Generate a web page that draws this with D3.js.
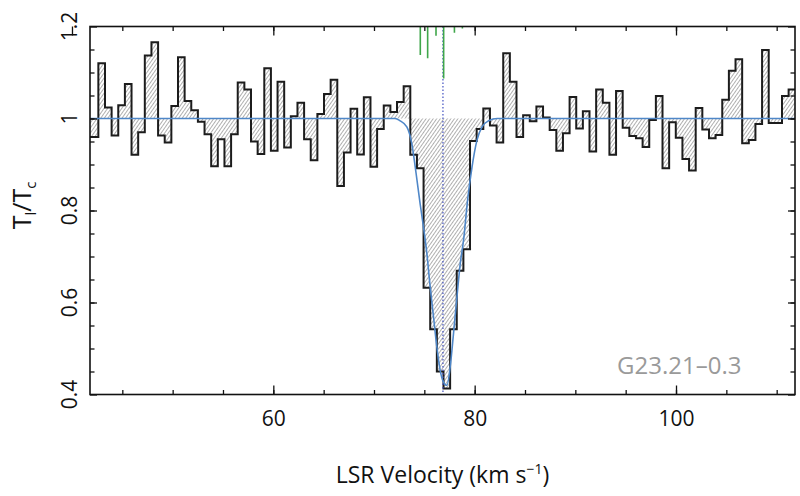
<!DOCTYPE html>
<html>
<head>
<meta charset="utf-8">
<script src="https://cdn.jsdelivr.net/npm/d3@7"></script>
<style>
  body { margin: 0; background: #fff; }
  svg text { font-family: "Open Sans", "Noto Sans", sans-serif; }
</style>
</head>
<body>
<div id="graph"></div>
<script>
// channel grid of the spectrum (km/s)
var chanStart = 41.96;
var chanWidth = 0.6593;

// line-to-continuum ratio per channel
var ratio = [
  0.960, 1.120, 1.024, 0.963, 1.029, 1.075, 0.921, 0.970, 1.137, 1.166,
  0.963, 0.948, 1.027, 1.133, 1.038, 1.018, 0.993, 0.966, 0.896, 0.955,
  0.896, 0.966, 1.078, 1.063, 0.950, 0.923, 1.109, 0.930, 1.080, 0.937,
  1.005, 1.034, 0.955, 0.909, 1.010, 1.053, 1.084, 0.853, 0.926, 1.021,
  0.922, 1.046, 0.895, 0.977, 1.028, 1.014, 1.036, 1.070, 0.921, 0.892,
  0.632, 0.542, 0.450, 0.413, 0.542, 0.669, 0.716, 0.951, 0.977, 1.022,
  0.985, 0.948, 1.142, 1.080, 0.960, 1.007, 0.994, 1.026, 1.002, 0.975,
  0.930, 0.968, 1.047, 0.978, 1.016, 0.928, 1.063, 1.034, 0.921, 1.060,
  0.980, 0.962, 0.957, 0.938, 0.997, 1.049, 0.892, 0.992, 0.958, 0.912,
  0.887, 1.023, 0.976, 0.957, 0.964, 1.041, 1.104, 1.129, 0.946, 0.953,
  0.988, 1.149, 0.990, 0.990, 1.049, 1.063
];

// fitted profile
var fitVel = [41.8, 72.09, 72.59, 73.26, 73.75, 74.18, 74.58, 74.91, 75.25, 75.58,
  75.91, 76.24, 76.57, 76.90, 77.24, 77.57, 77.90, 78.24, 78.57, 78.90,
  79.30, 79.74, 80.23, 80.73, 81.38, 82.25, 111.8];
var fitRatio = [1.0, 1.0, 0.995, 0.982, 0.946, 0.881, 0.815, 0.765, 0.707, 0.634,
  0.569, 0.504, 0.453, 0.427, 0.420, 0.460, 0.533, 0.612, 0.685, 0.736,
  0.823, 0.895, 0.953, 0.982, 0.995, 1.0, 1.0];

// marker lines at the top
var lineVel = [74.60, 75.33, 76.16, 76.92, 77.99, 78.78];
var lineStrength = [0.55, 0.61, 0.18, 1.0, 0.12, 0.04];
var systemicVel = 76.85;

var xMajor = [40, 60, 80, 100];
var xLabels = ["40", "60", "80", "100"];
var yMajor = [0.4, 0.6, 0.8, 1.0, 1.2];
var yLabels = ["0.4", "0.6", "0.8", "1", "1.2"];
var sourceName = "G23.21–0.3";

var margin = {top: 26.5, right: 5, bottom: 101.5, left: 90},
    width = 800 - margin.left - margin.right,
    height = 496 - margin.top - margin.bottom;

var svg = d3.select("#graph").append("svg")
    .attr("width", 800)
    .attr("height", 496);

var defs = svg.append("defs");
defs.append("clipPath").attr("id", "clip")
    .append("rect").attr("width", width).attr("height", height);
defs.append("pattern")
    .attr("id", "hatch")
    .attr("patternUnits", "userSpaceOnUse")
    .attr("width", 2.9)
    .attr("height", 2.9)
    .attr("patternTransform", "rotate(35)")
  .append("line")
    .attr("x1", 0).attr("y1", 0).attr("x2", 0).attr("y2", 2.9)
    .attr("stroke", "#3c3c3c")
    .attr("stroke-width", 0.8);

var g = svg.append("g")
    .attr("transform", "translate(" + margin.left + "," + margin.top + ")");

var x = d3.scaleLinear().domain([41.79, 111.82]).range([0, width]);
var y = d3.scaleLinear().domain([0.4, 1.2]).range([height, 0]);
var len = d3.scaleLinear().domain([0, 1]).range([0, 52]);

// step points: left edge of each channel, plus the closing edge
var steps = ratio.map(function(r, i) { return [chanStart + i * chanWidth, r]; });
steps.push([chanStart + ratio.length * chanWidth, ratio[ratio.length - 1]]);
steps[0][0] = x.domain()[0];

var plot = g.append("g").attr("clip-path", "url(#clip)");

plot.append("path")
    .datum(steps)
    .attr("fill", "url(#hatch)")
    .attr("d", d3.area()
        .x(function(d) { return x(d[0]); })
        .y0(y(1))
        .y1(function(d) { return y(d[1]); })
        .curve(d3.curveStepAfter));

plot.append("path")
    .datum(steps)
    .attr("fill", "none")
    .attr("stroke", "#1c1c1c")
    .attr("stroke-width", 2)
    .attr("d", d3.line()
        .x(function(d) { return x(d[0]); })
        .y(function(d) { return y(d[1]); })
        .curve(d3.curveStepAfter));

plot.append("line")
    .attr("x1", x(systemicVel)).attr("x2", x(systemicVel))
    .attr("y1", 0).attr("y2", height)
    .attr("stroke", "#3f4fc0")
    .attr("stroke-width", 1.2)
    .attr("stroke-dasharray", "1.5,2");

var fit = fitVel.map(function(v, i) { return [v, fitRatio[i]]; });
plot.append("path")
    .datum(fit)
    .attr("fill", "none")
    .attr("stroke", "#4f87c8")
    .attr("stroke-width", 1.6)
    .attr("d", d3.line()
        .x(function(d) { return x(d[0]); })
        .y(function(d) { return y(d[1]); })
        .curve(d3.curveMonotoneX));

plot.selectAll(".comp")
    .data(lineVel)
    .enter().append("line")
    .attr("x1", function(d) { return x(d); })
    .attr("x2", function(d) { return x(d); })
    .attr("y1", 0)
    .attr("y2", function(d, i) { return len(lineStrength[i]); })
    .attr("stroke", "#3fa64a")
    .attr("stroke-width", 1.6);

// axes, ticks pointing inward
function noLabel() { return ""; }
var xMinor = d3.range(45, 112, 5);
var yMinor = d3.range(0.45, 1.2, 0.05);

g.append("g").attr("transform", "translate(0," + height + ")")
    .call(d3.axisBottom(x).tickValues(xMinor).tickSize(-4.5).tickFormat(noLabel));
var xb = g.append("g").attr("transform", "translate(0," + height + ")")
    .call(d3.axisBottom(x).tickValues(xMajor.filter(function(v) { return v > x.domain()[0]; }))
        .tickSize(-9).tickPadding(17)
        .tickFormat(function(d) { return xLabels[xMajor.indexOf(d)]; }));
g.append("g")
    .call(d3.axisTop(x).tickValues(xMinor).tickSize(-4.5).tickFormat(noLabel));
g.append("g")
    .call(d3.axisTop(x).tickValues(xMajor).tickSize(-9).tickFormat(noLabel));
g.append("g")
    .call(d3.axisLeft(y).tickValues(yMinor).tickSize(-4.5).tickFormat(noLabel));
g.append("g")
    .call(d3.axisLeft(y).tickValues(yMajor).tickSize(-7).tickFormat(noLabel));
g.append("g").attr("transform", "translate(" + width + ",0)")
    .call(d3.axisRight(y).tickValues(yMinor).tickSize(-4.5).tickFormat(noLabel));
g.append("g").attr("transform", "translate(" + width + ",0)")
    .call(d3.axisRight(y).tickValues(yMajor).tickSize(-7).tickFormat(noLabel));

g.selectAll(".domain").remove();
g.selectAll(".tick line").attr("stroke", "#111").attr("stroke-width", 1.3);
xb.selectAll("text").attr("font-size", 21).attr("fill", "#111");

g.selectAll(".ylab")
    .data(yMajor)
    .enter().append("text")
    .attr("transform", function(d) { return "translate(-13," + y(d) + ") rotate(-90)"; })
    .attr("text-anchor", "middle")
    .attr("font-size", 21)
    .attr("fill", "#111")
    .text(function(d, i) { return yLabels[i]; });

g.append("rect")
    .attr("width", width).attr("height", height)
    .attr("fill", "none")
    .attr("stroke", "#111")
    .attr("stroke-width", 1.6);

g.append("text")
    .attr("x", x(106.5))
    .attr("y", height - 21)
    .attr("text-anchor", "end")
    .attr("font-size", 24)
    .attr("fill", "#9a9a9a")
    .text(sourceName);

// axis titles
svg.append("text")
    .attr("x", margin.left + width / 2)
    .attr("y", 483)
    .attr("text-anchor", "middle")
    .attr("font-size", 23)
    .attr("fill", "#111")
    .text("LSR Velocity (km s")
  .append("tspan").attr("dy", -9).attr("font-size", 14).text("−1")
  .select(function() { return this.parentNode; })
  .append("tspan").attr("dy", 9).text(")");

var yt = svg.append("text")
    .attr("transform", "translate(31," + (margin.top + height / 2 - 5) + ") rotate(-90)")
    .attr("text-anchor", "middle")
    .attr("font-size", 25)
    .attr("fill", "#111");
yt.append("tspan").text("T");
yt.append("tspan").attr("dy", 5).attr("font-size", 15).text("l");
yt.append("tspan").attr("dy", -5).text("/T");
yt.append("tspan").attr("dy", 5).attr("font-size", 15).text("c");
</script>
</body>
</html>
